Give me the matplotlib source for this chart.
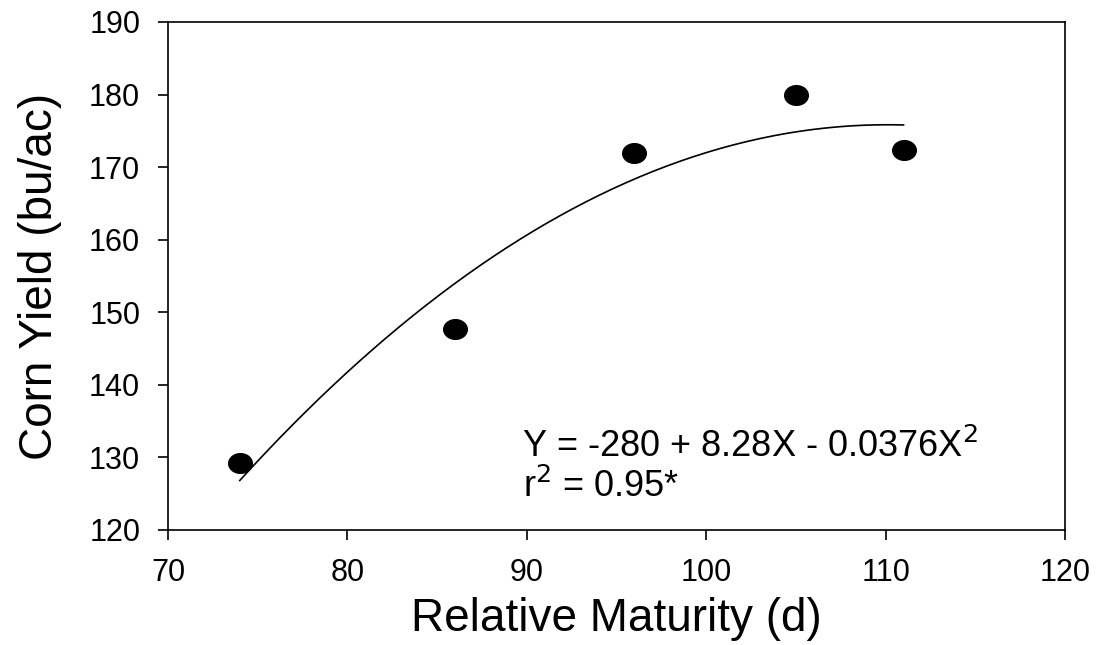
import numpy as np
import matplotlib
matplotlib.use("Agg")
import matplotlib.pyplot as plt
from matplotlib.path import Path
from matplotlib.transforms import Affine2D

# observed yields
maturity = [74, 86, 96, 105, 111]
yield_bu = [129.3, 147.7, 172.0, 180.0, 172.4]

# fitted quadratic
b0, b1, b2 = -280, 8.28, -0.0376
x_fit = np.linspace(74, 111, 200)
y_fit = b0 + b1 * x_fit + b2 * x_fit ** 2

x_ticks = [70, 80, 90, 100, 110, 120]
y_ticks = [120, 130, 140, 150, 160, 170, 180, 190]

W, H = 1096, 645
plt.rcParams["font.family"] = ["Liberation Sans", "DejaVu Sans"]

fig = plt.figure(figsize=(W / 100, H / 100), dpi=100)
ax = fig.add_axes([168 / W, 1 - 530 / H, (1065 - 168) / W, (530 - 22) / H])

# slightly wide oval marker
oval = Path.unit_circle().transformed(Affine2D().scale(1.2, 1.0))

ax.plot(x_fit, y_fit, color="black", lw=1.2)
ax.plot(maturity, yield_bu, linestyle="none", marker=oval, markersize=17,
        color="black", clip_on=False)

ax.set_xlim(70, 120)
ax.set_ylim(120, 190)
ax.set_xticks(x_ticks)
ax.set_yticks(y_ticks)
ax.tick_params(direction="out", length=7, width=1.2, labelsize=22, pad=13,
               top=False, right=False)
for s in ax.spines.values():
    s.set_linewidth(1.2)

ax.set_xlabel("Relative Maturity (d)", fontsize=33)
ax.set_ylabel("Corn Yield (bu/ac)", fontsize=33)
# place axis labels (axes fraction)
ax.xaxis.set_label_coords(0.5, (530 - 597) / 508)
ax.yaxis.set_label_coords((62 - 168) / 897, 0.5)

def px(x, y):
    return x / W, 1 - y / H

fig.text(*px(522, 457), "Y = -280 + 8.28X - 0.0376X$^2$", fontsize=26,
         va="baseline", ha="left")
fig.text(*px(523, 497), "r$^2$ = 0.95*", fontsize=26, va="baseline", ha="left")

fig.savefig("out.png", dpi=100)
